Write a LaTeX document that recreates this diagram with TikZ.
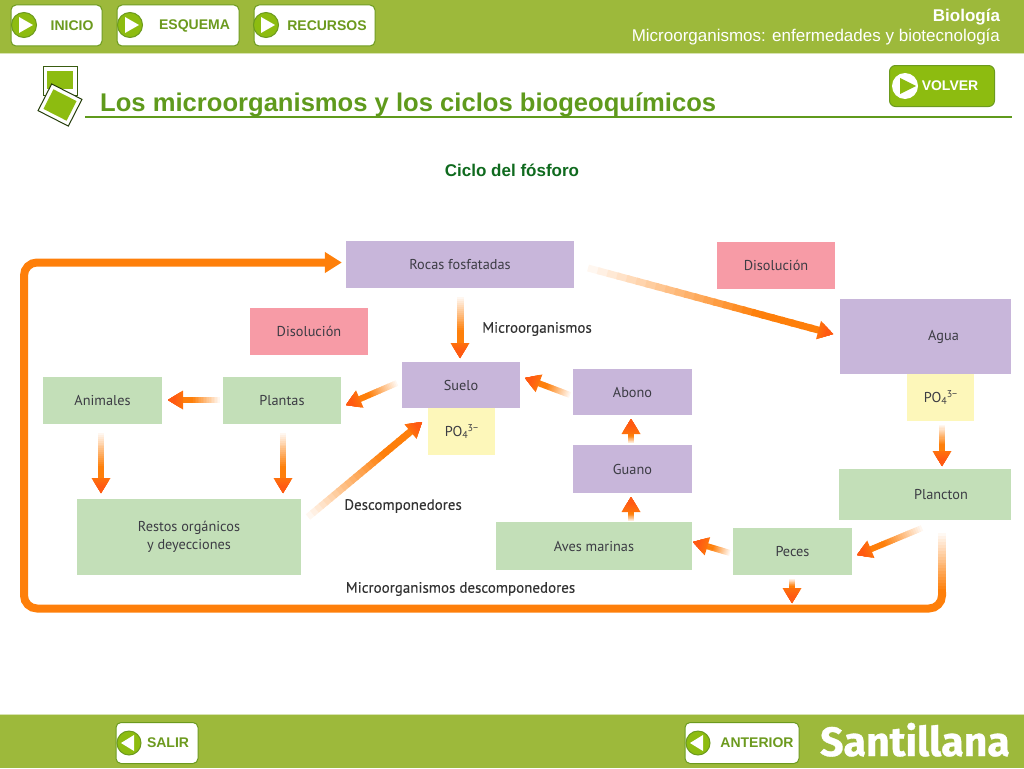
\documentclass[tikz,border=0pt]{standalone}
\usepackage{fontspec}
\setmainfont{Liberation Sans}
\newfontfamily\boxfont{PT Sans}
\newfontfamily\labelfont[FakeBold=0.25]{PT Sans}
\newfontfamily\brandfont[BoldFeatures={FakeBold=0.8}]{Fira Sans}
\usetikzlibrary{arrows.meta,calc}
\definecolor{barcol}{HTML}{9DB93B}
\definecolor{btncol}{HTML}{6C9A1E}
\definecolor{limecol}{HTML}{8DBC10}
\definecolor{titlecol}{HTML}{5F9A1C}
\definecolor{headcol}{HTML}{0F6A1E}
\definecolor{purplecol}{HTML}{C8B6DA}
\definecolor{greencol}{HTML}{C3DFB8}
\definecolor{pinkcol}{HTML}{F79BA6}
\definecolor{yellowcol}{HTML}{FDF7BA}
\definecolor{flowcol}{HTML}{FE7F0A}
\definecolor{tipcol}{HTML}{FF5A12}
\definecolor{inkcol}{HTML}{3C3C44}
\tikzset{
	boxtext/.style={text=inkcol,font=\boxfont\fontsize{14.3}{18}\selectfont,align=center},
	purplebox/.style={boxtext,fill=purplecol},
	greenbox/.style={boxtext,fill=greencol},
	pinkbox/.style={boxtext,fill=pinkcol,minimum width=118,minimum height=47},
	yellowbox/.style={boxtext,fill=yellowcol,minimum width=67,minimum height=47},
	steplabel/.style={text=black!80,font=\labelfont\fontsize{15}{18}\selectfont},
	navbtn/.style={draw=btncol,fill=white,rounded corners=5,line width=1,minimum height=41},
	navtext/.style={text=btncol,font=\bfseries\fontsize{14}{17}\selectfont},
	navdisc/.style={circle,draw=btncol,fill=limecol,line width=1,minimum size=25,inner sep=0},
}
% tip shaded from orange at its base to red at its point
\newcommand{\flowtip}[4]{
	\foreach \j in {0,...,7}{
		\pgfmathsetmacro{\tiplen}{#3*(1-\j/8)}
		\pgfmathsetmacro{\tipwid}{#4*(1-\j/8)/2}
		\pgfmathsetmacro{\pc}{min(100,40+\j*15)}
		\coordinate (tb) at ($(#2)!\tiplen pt!(#1)$);
		\fill[tipcol!\pc!flowcol] (#2) -- ($(tb)!\tipwid pt!90:(#2)$) -- ($(tb)!\tipwid pt!-90:(#2)$) -- cycle;
	}
}
% arrow that fades in from white towards its tip
\newcommand{\flowarrow}[3][6]{
	\coordinate (fa) at (#2);
	\coordinate (fb) at (#3);
	\coordinate (fc) at ($(fb)!14pt!(fa)$);
	\foreach \i in {0,...,23}{
		\pgfmathsetmacro{\ta}{\i/24}
		\pgfmathsetmacro{\tb}{min((\i+1.3)/24,1)}
		\pgfmathsetmacro{\pc}{min(100,6+\i*5.5)}
		\draw[line width=#1,flowcol!\pc!white] ($(fa)!\ta!(fc)$) -- ($(fa)!\tb!(fc)$);
	}
	\flowtip{fa}{fb}{15}{19}
}
\newcommand{\navplay}[1]{
	\node[navdisc] at (#1) {};
	\fill[white] ($(#1)+(-5,-8)$) -- ($(#1)+(9,0)$) -- ($(#1)+(-5,8)$) -- cycle;
}
\newcommand{\navback}[1]{
	\node[navdisc,minimum size=24] at (#1) {};
	\fill[white] ($(#1)+(5,-8)$) -- ($(#1)+(-8,0)$) -- ($(#1)+(5,8)$) -- cycle;
}
\newcommand{\pofour}{PO{\raisebox{-2.5pt}{\fontsize{10}{10}\selectfont 4}}{\raisebox{5pt}{\fontsize{10}{10}\selectfont 3−}}}
\begin{document}
\begin{tikzpicture}[x=1pt,y=-1pt]
	\useasboundingbox (0,0) rectangle (1024,768);
	% bars
	\fill[barcol] (0,0) rectangle (1024,53);
	\fill[barcol] (0,714) rectangle (1024,768);
	\draw[barcol!40!white,line width=1] (0,53.5) -- (1024,53.5);
	\draw[barcol!40!white,line width=1] (0,714) -- (1024,714);
	% top buttons
	\node[navbtn,minimum width=91] (inicio) at (56.5,25.5) {};
	\node[navbtn,minimum width=122] (esquema) at (178,25.5) {};
	\node[navbtn,minimum width=121] (recursos) at (314.5,25.5) {};
	\navplay{24,25}
	\navplay{130,25}
	\navplay{266,25}
	\node[navtext] at (72,26) {INICIO};
	\node[navtext] at (194.5,26) {ESQUEMA};
	\node[navtext] at (327,26) {RECURSOS};
	\node[anchor=east,text=white,font=\bfseries\fontsize{17}{20}\selectfont] at (1003.5,17) {Biología};
	\node[anchor=east,text=white,font=\fontsize{17}{20}\selectfont] at (1003.5,37) {Microorganismos: enfermedades y biotecnología};
	% title
	\draw[draw=titlecol!60!black,fill=white,line width=1] (43,66) rectangle (77,95);
	\fill[limecol] (47,71) rectangle (73,89);
	\draw[draw=titlecol!40!black,fill=white,line width=1,rotate around={-27:(60,105)}] (43,90) rectangle (77,120);
	\fill[limecol,rotate around={-27:(60,105)}] (47,94) rectangle (73,116);
	\node[anchor=base west,inner sep=0,text=titlecol,font=\bfseries\fontsize{25.6}{30}\selectfont] at (100,111) {Los microorganismos y los ciclos biogeoquímicos};
	\draw[titlecol,line width=2] (85,117) -- (1012,117);
	\node[draw=btncol,fill=limecol,rounded corners=6,line width=1,minimum width=105,minimum height=41] (volver) at (942,86) {};
	\fill[white] (905,86) circle (13);
	\fill[limecol] (900,78) -- (916,86) -- (900,94) -- cycle;
	\node[text=white,font=\bfseries\fontsize{14}{17}\selectfont] at (950,86) {VOLVER};
	\node[text=headcol,font=\bfseries\fontsize{17}{20}\selectfont] at (512,170) {Ciclo del fósforo};
	% boxes
	\node[purplebox,minimum width=228,minimum height=47] (rocas) at (460,264.5) {Rocas fosfatadas};
	\node[pinkbox] (disolucionr) at (776,265) {Disolución};
	\node[purplebox,minimum width=171,minimum height=75] (agua) at (925.5,336.5) {\raisebox{-3pt}{\hspace*{36pt}Agua}};
	\node[yellowbox] (por) at (940.5,397.5) {\pofour};
	\node[greenbox,minimum width=172,minimum height=51] (plancton) at (925,494.5) {\hspace*{32pt}Plancton};
	\node[pinkbox] (disolucionl) at (309,331.5) {Disolución};
	\node[purplebox,minimum width=118,minimum height=46] (suelo) at (461,385) {Suelo};
	\node[yellowbox] (pos) at (461.5,431.5) {\pofour};
	\node[purplebox,minimum width=119,minimum height=46] (abono) at (632.5,392) {Abono};
	\node[purplebox,minimum width=119,minimum height=48] (guano) at (632.5,469) {Guano};
	\node[greenbox,minimum width=196,minimum height=48] (aves) at (594,546) {Aves marinas};
	\node[greenbox,minimum width=119,minimum height=47] (peces) at (792.5,551.5) {Peces};
	\node[greenbox,minimum width=119,minimum height=47] (animales) at (102.5,400.5) {Animales};
	\node[greenbox,minimum width=118,minimum height=47] (plantas) at (282,400.5) {Plantas};
	\node[greenbox,minimum width=224,minimum height=76] (restos) at (189,537) {Restos orgánicos\\y deyecciones};
	% labels
	\node[steplabel] (microo) at (537,329) {Microorganismos};
	\node[steplabel] (descomp) at (403,506) {Descomponedores};
	\node[steplabel] (microd) at (460.5,589) {Microorganismos descomponedores};
	% long loop
	\coordinate (loopa) at (942,533);
	\coordinate (loopb) at (942,592);
	\foreach \i in {0,...,19}{
		\pgfmathsetmacro{\ta}{\i/20}
		\pgfmathsetmacro{\tb}{(\i+1.3)/20}
		\pgfmathsetmacro{\pc}{min(100,(\i+1)*5)}
		\draw[line width=8,flowcol!\pc!white] ($(loopa)!\ta!(loopb)$) -- ($(loopa)!\tb!(loopb)$);
	}
	\coordinate (loopw) at (24,608.5);
	\coordinate (loopn) at (24,262.5);
	\coordinate (loope) at ($(rocas.west |- loopn)+(-4,0)$);
	\draw[line width=8,flowcol,rounded corners=13,-{Triangle[width=20,length=17]}] (loopb) |- (loopw) -- (loopn) -- (loope);
	% flows
	\flowarrow[7]{460,297}{460,358}
	\flowarrow[7]{588,268}{833,334}
	\flowarrow{397,383}{346,405}
	\flowarrow{220,400}{168,400}
	\flowarrow{101,433}{101,493}
	\flowarrow{283,433}{283,493}
	\flowarrow[7]{308,517}{422,422}
	\flowarrow{570,395}{525,378}
	\flowarrow{631,443}{631,419}
	\flowarrow{631,521}{631,497}
	\flowarrow{730,553}{693,542}
	\flowarrow{922,528}{857,555}
	\flowarrow{942,425}{942,466}
	\flowarrow{792,579}{792,603}
	% bottom buttons
	\node[navbtn,minimum width=82] (salir) at (157,743) {};
	\node[navbtn,minimum width=114] (anterior) at (742,743) {};
	\navback{129,743}
	\navback{698,743}
	\node[navtext] at (168,743) {SALIR};
	\node[navtext] at (757,743) {ANTERIOR};
	\node[anchor=base east,inner sep=0,text=white,font=\brandfont\bfseries\fontsize{41}{44}\selectfont] at (1010,756) {Santillana};
\end{tikzpicture}
\end{document}
